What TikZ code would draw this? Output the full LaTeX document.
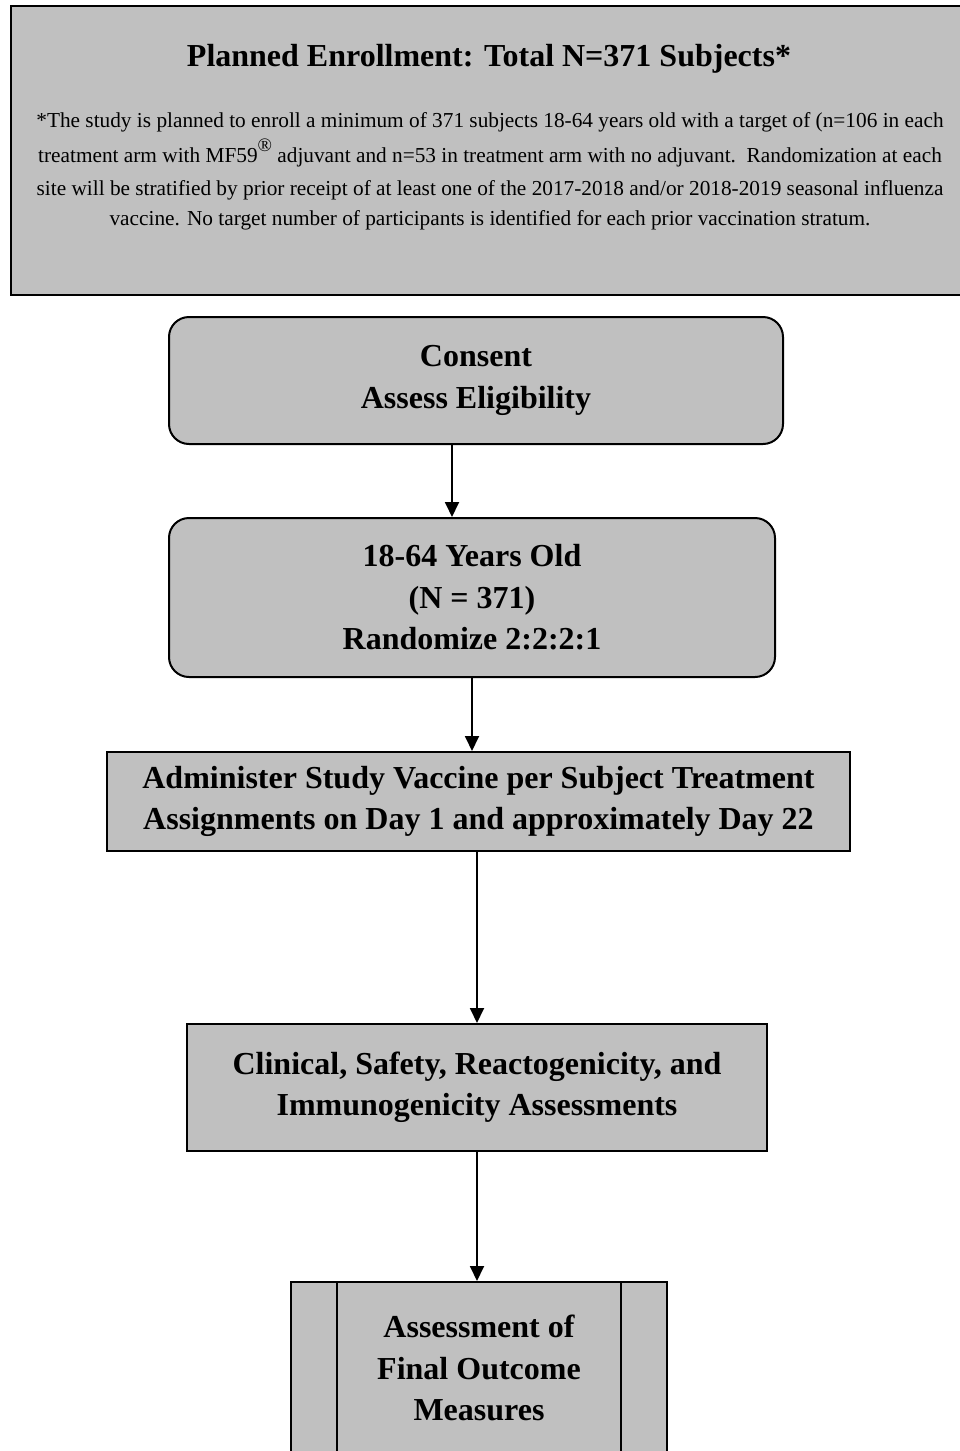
\documentclass[tikz,border=0pt]{standalone}
\usepackage{fontspec}
\setmainfont{Liberation Serif}
\usetikzlibrary{arrows.meta,calc,positioning}
\definecolor{boxgray}{RGB}{192,192,192}

\begin{document}
\begin{tikzpicture}[>={Triangle[length=15pt,width=14pt]},x=1pt,y=-1pt,align=center,
		box/.style={draw,line width=2pt,fill=boxgray,inner sep=0pt,font=\fontsize{32}{41.5}\selectfont\bfseries},
		roundbox/.style={box,rounded corners=20pt},
		flow/.style={->,line width=1.8pt}]
		\useasboundingbox (0,0) rectangle (960,1451);
		\clip (0,0) rectangle (960,1451);
		% enrollment panel
		\node[box,anchor=north west,minimum width=960pt,minimum height=289pt] (enroll) at (10,5) {};
		\node[font=\fontsize{32}{36}\selectfont\bfseries] (title) at (489,59) {Planned Enrollment: Total N=371 Subjects*};
		\node[font=\fontsize{21.3}{33}\selectfont] (note) at (490,171) {*The study is planned to enroll a minimum of 371 subjects 18-64 years old with a target of (n=106 in each\\[2pt]
			treatment arm with MF59\raisebox{0.5em}{\fontsize{19}{19}\selectfont\textregistered} adjuvant and n=53 in treatment arm with no adjuvant.\ \ Randomization at each\\
			site will be stratified by prior receipt of at least one of the 2017-2018 and/or 2018-2019 seasonal influenza\\[-3pt]
			vaccine. No target number of participants is identified for each prior vaccination stratum.};
		% flow
		\node[roundbox,minimum width=614pt,minimum height=127pt] (consent) at (476,380.5) {Consent\\Assess Eligibility};
		\node[roundbox,minimum width=606pt,minimum height=159pt,below=72pt of consent,xshift=-4pt] (age) {18-64 Years Old\\(N = 371)\\Randomize 2:2:2:1};
		\node[box,minimum width=743pt,minimum height=99pt,below=73pt of age,xshift=6.5pt] (admin) {Administer Study Vaccine per Subject Treatment\\Assignments on Day 1 and approximately Day 22};
		\node[box,minimum width=580pt,minimum height=127pt,below=171pt of admin,xshift=-1.5pt] (clinical) {Clinical, Safety, Reactogenicity, and\\Immunogenicity Assessments};
		\node[box,minimum width=376pt,minimum height=172pt,below=129pt of clinical,xshift=2pt] (final) {Assessment of\\Final Outcome\\Measures};
		\draw[line width=2pt] ([xshift=47pt]final.north west) -- ([xshift=47pt]final.south west)
			([xshift=-47pt]final.north east) -- ([xshift=-47pt]final.south east);
		\draw[flow] ([xshift=-24pt]consent.south) -- ([xshift=-20pt]age.north);
		\draw[flow] (age.south) -- (age.south |- admin.north);
		\draw[flow] (clinical.north |- admin.south) -- (clinical.north);
		\draw[flow] (clinical.south) -- (clinical.south |- final.north);
\end{tikzpicture}
\end{document}
